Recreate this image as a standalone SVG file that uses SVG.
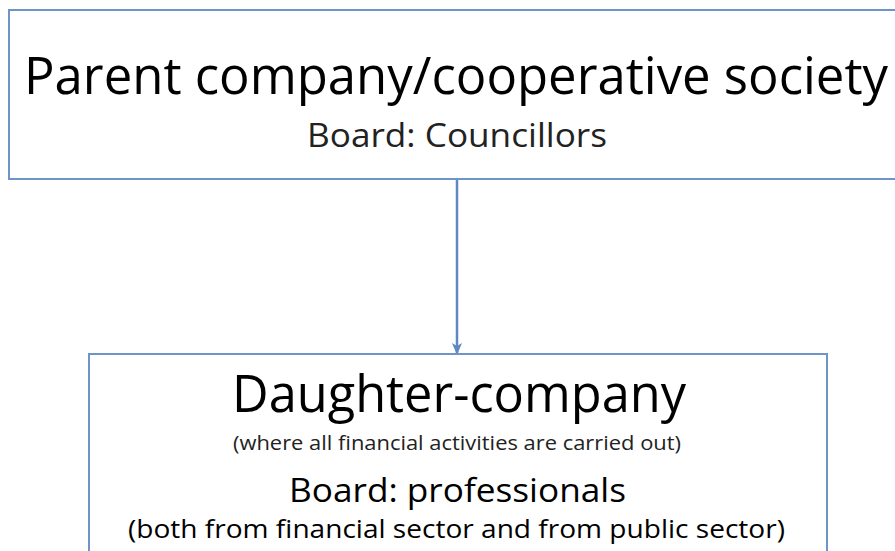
<svg xmlns="http://www.w3.org/2000/svg" width="895" height="551" viewBox="0 0 895 551">
<style>
.box{fill:#fff;stroke:#6f95c8;stroke-width:2}
.t{font-family:"Open Sans","Noto Sans","Liberation Sans",sans-serif;fill:#000;text-anchor:middle}
.s{fill:#222}
.con{stroke:#5f88c0;stroke-width:2.5;fill:none}
</style>
<defs>
<marker id="ah" markerWidth="12" markerHeight="10" refX="10" refY="5" orient="auto" markerUnits="userSpaceOnUse" viewBox="0 0 12 10">
<path d="M0,0 L12,5 L0,10 L3,5 Z" fill="#5f88c0"/>
</marker>
</defs>
<g id="connectors">
<line class="con" x1="457" y1="180" x2="457" y2="353" marker-end="url(#ah)"/>
</g>
<g id="parent">
<rect class="box" x="9" y="10" width="900" height="169"/>
<text class="t" x="456" y="94" font-size="51" textLength="864" lengthAdjust="spacingAndGlyphs">Parent company/cooperative society</text>
<text class="t s" x="457" y="147" font-size="32" textLength="300" lengthAdjust="spacingAndGlyphs">Board: Councillors</text>
</g>
<g id="daughter">
<rect class="box" x="89" y="354" width="738" height="210"/>
<text class="t" x="459" y="412" font-size="51" textLength="454" lengthAdjust="spacingAndGlyphs">Daughter-company</text>
<text class="t s" x="457" y="450" font-size="20" textLength="448" lengthAdjust="spacingAndGlyphs">(where all financial activities are carried out)</text>
<text class="t" x="457.5" y="502" font-size="32" textLength="337" lengthAdjust="spacingAndGlyphs">Board: professionals</text>
<text class="t" x="456.5" y="538" font-size="26" textLength="657" lengthAdjust="spacingAndGlyphs">(both from financial sector and from public sector)</text>
</g>
</svg>
